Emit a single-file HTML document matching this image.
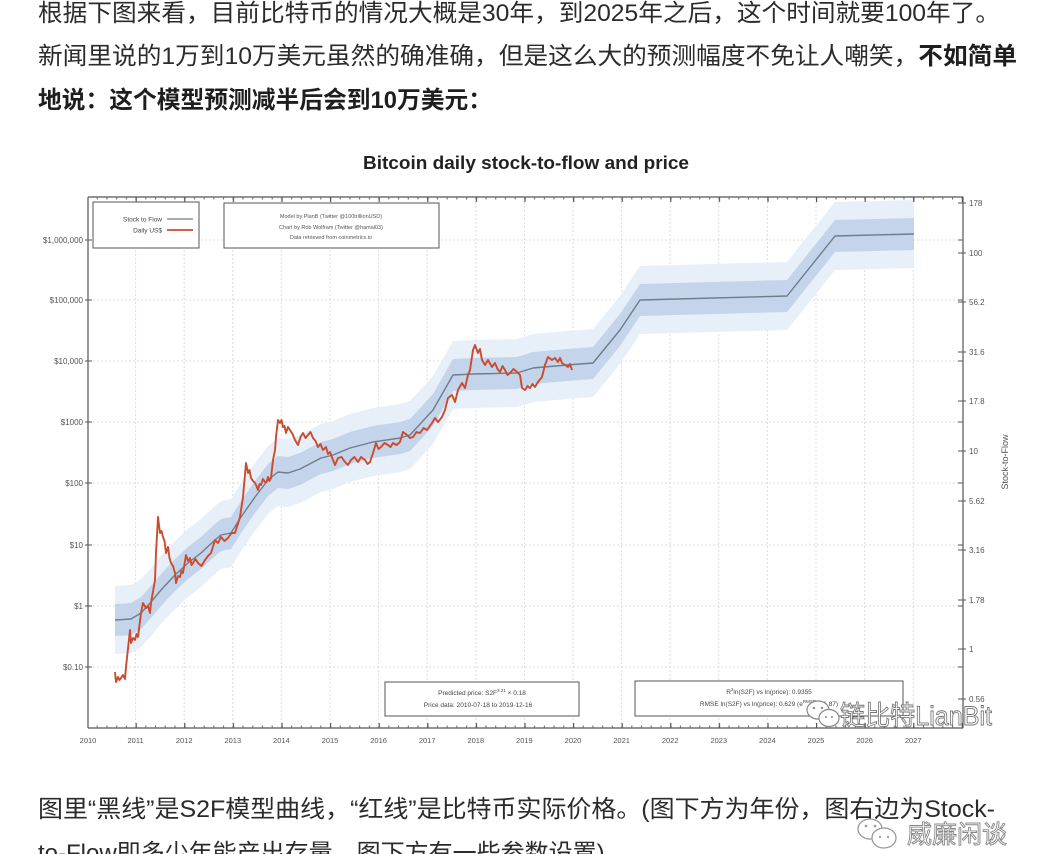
<!DOCTYPE html>
<html>
<head>
<meta charset="utf-8">
<style>
html,body{margin:0;padding:0;background:#fff;}
svg{display:block;}
.cn{font-family:"Liberation Sans","Noto Sans CJK SC",sans-serif;}
.lat{font-family:"Liberation Sans",sans-serif;}
</style>
</head>
<body>
<svg width="1042" height="854" viewBox="0 0 1042 854" xmlns="http://www.w3.org/2000/svg">
<defs>
  <pattern id="minB" x="87" y="0" width="9.72" height="854" patternUnits="userSpaceOnUse">
    <rect x="0" y="0" width="1" height="854" fill="#666"/>
  </pattern>
  <pattern id="majB" x="87" y="0" width="48.6" height="854" patternUnits="userSpaceOnUse">
    <rect x="0" y="0" width="1.2" height="854" fill="#555"/>
  </pattern>
</defs>
<rect width="1042" height="854" fill="#fff"/>

<!-- Top Chinese text -->
<text class="cn" x="38" y="21" font-size="24" fill="#2b2b2b" textLength="962" lengthAdjust="spacingAndGlyphs">根据下图来看，目前比特币的情况大概是30年，到2025年之后，这个时间就要100年了。</text>
<text class="cn" x="38" y="64" font-size="24" fill="#2b2b2b" textLength="979" lengthAdjust="spacingAndGlyphs">新闻里说的1万到10万美元虽然的确准确，但是这么大的预测幅度不免让人嘲笑，<tspan font-weight="bold" fill="#1e1e1e">不如简单</tspan></text>
<text class="cn" x="38" y="108" font-size="24" fill="#1e1e1e" font-weight="bold" textLength="454" lengthAdjust="spacingAndGlyphs">地说：这个模型预测减半后会到10万美元：</text>

<!-- Title -->
<text class="lat" x="363" y="169" font-size="18" font-weight="bold" fill="#222" textLength="326" lengthAdjust="spacingAndGlyphs">Bitcoin daily stock-to-flow and price</text>

<!-- Grid -->
<g stroke="#dcdcdc" stroke-width="1" stroke-dasharray="2,2">
  <line x1="135.6" y1="198" x2="135.6" y2="727"/>
  <line x1="184.2" y1="198" x2="184.2" y2="727"/>
  <line x1="232.8" y1="198" x2="232.8" y2="727"/>
  <line x1="281.4" y1="198" x2="281.4" y2="727"/>
  <line x1="330" y1="198" x2="330" y2="727"/>
  <line x1="378.6" y1="198" x2="378.6" y2="727"/>
  <line x1="427.2" y1="198" x2="427.2" y2="727"/>
  <line x1="475.8" y1="198" x2="475.8" y2="727"/>
  <line x1="524.4" y1="198" x2="524.4" y2="727"/>
  <line x1="573" y1="198" x2="573" y2="727"/>
  <line x1="621.6" y1="198" x2="621.6" y2="727"/>
  <line x1="670.2" y1="198" x2="670.2" y2="727"/>
  <line x1="718.8" y1="198" x2="718.8" y2="727"/>
  <line x1="767.4" y1="198" x2="767.4" y2="727"/>
  <line x1="816" y1="198" x2="816" y2="727"/>
  <line x1="864.6" y1="198" x2="864.6" y2="727"/>
  <line x1="913.2" y1="198" x2="913.2" y2="727"/>
  <line x1="89" y1="240" x2="962" y2="240"/>
  <line x1="89" y1="300" x2="962" y2="300"/>
  <line x1="89" y1="361" x2="962" y2="361"/>
  <line x1="89" y1="422" x2="962" y2="422"/>
  <line x1="89" y1="483" x2="962" y2="483"/>
  <line x1="89" y1="545" x2="962" y2="545"/>
  <line x1="89" y1="606" x2="962" y2="606"/>
  <line x1="89" y1="667" x2="962" y2="667"/>
</g>

<!-- Light band -->
<polygon fill="#e7eff9" points="115,586 131,585 141,579 151,568 161,556 175,541 188,529 201,519 215,506 221,501 231,499 241,483 255,463 268,446 278,438 288,439 300,435 321,424 333,421 350,414 373,408 400,404 410,401 433,376 453,341 473,340 517,339 533,334 567,331 593,329 620,296 640,266 787,262 835,202 914,200 914,268 835,270 787,330 640,334 620,364 593,397 567,399 533,402 517,407 473,408 453,409 433,444 410,469 400,472 373,476 350,482 333,489 321,492 300,503 288,507 278,506 268,514 255,531 241,551 231,567 221,569 215,574 201,587 188,597 175,609 161,624 151,636 141,647 131,653 115,654"/>
<!-- Dark band -->
<polygon fill="#c4d4ea" points="115,604 131,603 141,597 151,586 161,574 175,559 188,547 201,537 215,524 221,519 231,517 241,501 255,481 268,464 278,456 288,457 300,453 321,442 333,439 350,432 373,426 400,422 410,419 433,394 453,359 473,358 517,357 533,352 567,349 593,347 620,314 640,284 787,280 835,220 914,218 914,250 835,252 787,312 640,316 620,346 593,379 567,381 533,384 517,389 473,390 453,391 433,426 410,451 400,454 373,458 350,464 333,471 321,474 300,485 288,489 278,488 268,496 255,513 241,533 231,549 221,551 215,556 201,569 188,579 175,591 161,606 151,618 141,629 131,635 115,636"/>

<!-- S2F line -->
<polyline fill="none" stroke="#6f7d8a" stroke-width="1.4" stroke-linejoin="round" points="115,620 131,619 141,613 151,602 161,590 175,575 188,563 201,553 215,540 221,535 231,533 241,517 255,497 268,480 278,472 288,473 300,469 321,458 333,455 350,448 373,442 400,438 410,435 433,410 453,375 473,374 517,373 533,368 567,365 593,363 620,330 640,300 787,296 835,236 914,234"/>

<!-- Price line -->
<polyline fill="none" stroke="#cc4a2e" stroke-width="1.9" stroke-linejoin="round" points="115,672 116,682 118,677 119.5,680 121,678 123,675 125,679 126,667 130,630 131,643 133,638 135,640 136.5,634 138,637 141,613 143,603 146,608 148,606 150,613 151,603 155,580 156,553 158,517 160,533 161.5,531 163,537 164.5,541 166,553 168,547 169.5,558 171,563 173,566 175,573 176,583 178,576 180,577 181.5,571 183,573 186,555 188,561 190,558 191.5,565 193,563 195.5,559 198,563 201.5,566 205,560 208,556 211,553 215,540 218,543 221,537 224.5,541 228,538 231.5,533 235,533 240,517 243,497 246,463 248,473 249.5,470 251,478 253,481 255,483 256.5,486 258,490 259.5,484 261,485 263,479 265,482 266.5,482 268,477 269.5,481 271,478 273,460 275,450 276,437 278,420 280,423 281.5,420 283,427 284.5,426 286,433 288,427 290,430 292.5,434 295,440 298,445 300.5,437 303,433 305.5,438 308,435 310.5,432 313,438 315.5,441 318,447 320.5,444 323,450 326,447 328,454 330,452 333,460 335,465 338,458 341.5,457 345,462 348,465 351,460 354.5,457 358,462 361,457 365,460 367.5,464 370,462 373,453 376,443 378.5,449 381,447 384.5,443 388,445 390.5,447 393,443 396.5,445 400,442 403,432 407,435 410,438 413,437 416.5,432 420,433 423.5,428 427,430 432,423 435,418 438,422 442,417 445,410 448,398 452,395 455,402 458,390 462,383 465,388 468,375 470,370 473,350 475,345 478,353 480,349 482,360 485,365 488,360 492,367 495,363 497.5,369 500,372 502.5,366 505,370 507.5,375 510,373 513.5,369 517,372 520,375 522,388 525,390 527.5,386 530,388 532.5,384 535,387 538,382 542,377 545,365 548,357 552,360 555,358 558,362 560,358 562,363 565,365 568,367 570,364 572,370"/>

<!-- Frame -->
<g stroke="#555" stroke-width="1.2" fill="none">
  <line x1="88" y1="197" x2="963" y2="197"/>
  <line x1="88" y1="197" x2="88" y2="728"/>
  <line x1="88" y1="728" x2="963" y2="728"/>
  <line x1="963" y1="197" x2="963" y2="728"/>
</g>
<!-- Bottom / top ticks via patterns -->
<rect x="88" y="725.5" width="875" height="2.5" fill="url(#minB)"/>
<rect x="88" y="723" width="875" height="5" fill="url(#majB)"/>
<rect x="88" y="197" width="875" height="2.5" fill="url(#minB)"/>
<rect x="88" y="197" width="875" height="5" fill="url(#majB)"/>

<!-- Left ticks -->
<g stroke="#555" stroke-width="1">
  <line x1="85" y1="240" x2="92" y2="240"/>
  <line x1="85" y1="300" x2="92" y2="300"/>
  <line x1="85" y1="361" x2="92" y2="361"/>
  <line x1="85" y1="422" x2="92" y2="422"/>
  <line x1="85" y1="483" x2="92" y2="483"/>
  <line x1="85" y1="545" x2="92" y2="545"/>
  <line x1="85" y1="606" x2="92" y2="606"/>
  <line x1="85" y1="667" x2="92" y2="667"/>
</g>
<!-- Right ticks -->
<g stroke="#555" stroke-width="1">
  <line x1="958" y1="203" x2="966" y2="203"/>
  <line x1="958" y1="253" x2="966" y2="253"/>
  <line x1="958" y1="302" x2="966" y2="302"/>
  <line x1="958" y1="352" x2="966" y2="352"/>
  <line x1="958" y1="401" x2="966" y2="401"/>
  <line x1="958" y1="451" x2="966" y2="451"/>
  <line x1="958" y1="501" x2="966" y2="501"/>
  <line x1="958" y1="550" x2="966" y2="550"/>
  <line x1="958" y1="600" x2="966" y2="600"/>
  <line x1="958" y1="649" x2="966" y2="649"/>
  <line x1="958" y1="699" x2="966" y2="699"/>
  <line x1="958" y1="240" x2="963" y2="240"/>
  <line x1="958" y1="300" x2="963" y2="300"/>
  <line x1="958" y1="361" x2="963" y2="361"/>
  <line x1="958" y1="422" x2="963" y2="422"/>
  <line x1="958" y1="483" x2="963" y2="483"/>
  <line x1="958" y1="545" x2="963" y2="545"/>
  <line x1="958" y1="606" x2="963" y2="606"/>
  <line x1="958" y1="667" x2="963" y2="667"/>
</g>

<!-- Left labels -->
<g class="lat" font-size="8" fill="#555" text-anchor="end">
  <text x="83" y="243">$1,000,000</text>
  <text x="83" y="303">$100,000</text>
  <text x="83" y="364">$10,000</text>
  <text x="83" y="425">$1000</text>
  <text x="83" y="486">$100</text>
  <text x="83" y="548">$10</text>
  <text x="83" y="609">$1</text>
  <text x="83" y="670">$0.10</text>
</g>
<!-- Right labels -->
<g class="lat" font-size="8" fill="#555">
  <text x="969" y="206">178</text>
  <text x="969" y="256">100</text>
  <text x="969" y="305">56.2</text>
  <text x="969" y="355">31.6</text>
  <text x="969" y="404">17.8</text>
  <text x="969" y="454">10</text>
  <text x="969" y="504">5.62</text>
  <text x="969" y="553">3.16</text>
  <text x="969" y="603">1.78</text>
  <text x="969" y="652">1</text>
  <text x="969" y="702">0.56</text>
</g>
<text class="lat" font-size="9" fill="#555" text-anchor="middle" transform="translate(1008,462) rotate(-90)">Stock-to-Flow</text>

<!-- Year labels -->
<g class="lat" font-size="7.5" fill="#555" text-anchor="middle">
  <text x="88" y="743">2010</text>
  <text x="135.6" y="743">2011</text>
  <text x="184.2" y="743">2012</text>
  <text x="232.8" y="743">2013</text>
  <text x="281.4" y="743">2014</text>
  <text x="330" y="743">2015</text>
  <text x="378.6" y="743">2016</text>
  <text x="427.2" y="743">2017</text>
  <text x="475.8" y="743">2018</text>
  <text x="524.4" y="743">2019</text>
  <text x="573" y="743">2020</text>
  <text x="621.6" y="743">2021</text>
  <text x="670.2" y="743">2022</text>
  <text x="718.8" y="743">2023</text>
  <text x="767.4" y="743">2024</text>
  <text x="816" y="743">2025</text>
  <text x="864.6" y="743">2026</text>
  <text x="913.2" y="743">2027</text>
</g>

<!-- Legend box -->
<rect x="93" y="202" width="106" height="46" fill="#fff" stroke="#555" stroke-width="1"/>
<g class="lat" font-size="6.5" fill="#444" text-anchor="end">
  <text x="162" y="221.5">Stock to Flow</text>
  <text x="162" y="232.5">Daily US$</text>
</g>
<line x1="167" y1="219" x2="193" y2="219" stroke="#6f7d8a" stroke-width="1.2"/>
<line x1="167" y1="230" x2="193" y2="230" stroke="#cc4a2e" stroke-width="1.8"/>

<!-- Credits box -->
<rect x="224" y="203" width="215" height="45" fill="#fff" stroke="#555" stroke-width="1"/>
<g class="lat" font-size="5.5" fill="#555" text-anchor="middle">
  <text x="331" y="218">Model by PlanB (Twitter @100trillionUSD)</text>
  <text x="331" y="229">Chart by Rob Wolfram (Twitter @hamal03)</text>
  <text x="331" y="239">Data retrieved from coinmetrics.io</text>
</g>

<!-- Predicted price box -->
<rect x="385" y="682" width="194" height="34" fill="#fff" stroke="#555" stroke-width="1"/>
<g class="lat" font-size="6.5" fill="#444" text-anchor="middle">
  <text x="482" y="695">Predicted price: S2F<tspan font-size="4.5" dy="-3">3.21</tspan><tspan dy="3"> × 0.18</tspan></text>
  <text x="478" y="707">Price data: 2010-07-18 to 2019-12-16</text>
</g>

<!-- Stats box -->
<rect x="635" y="681" width="268" height="35" fill="#fff" stroke="#555" stroke-width="1"/>
<g class="lat" font-size="6.5" fill="#444" text-anchor="middle">
  <text x="769" y="694">R<tspan font-size="4.5" dy="-3">2</tspan><tspan dy="3">ln(S2F) vs ln(price): 0.9355</tspan></text>
  <text x="769" y="706">RMSE ln(S2F) vs ln(price): 0.629 (e<tspan font-size="4.5" dy="-3">RMSE</tspan><tspan dy="3"> = 1.87)</tspan></text>
</g>

<!-- Watermark in chart -->
<g fill="#fff" stroke="#888" stroke-width="1.2">
  <ellipse cx="818" cy="710" rx="11" ry="9"/>
  <ellipse cx="829" cy="718" rx="10" ry="8.5"/>
</g>
<g fill="#888">
  <circle cx="814" cy="708" r="1.2"/><circle cx="822" cy="708" r="1.2"/>
  <circle cx="826" cy="717" r="1"/><circle cx="832" cy="717" r="1"/>
</g>
<text class="cn" x="840" y="725" font-size="27" fill="#fff" stroke="#777" stroke-width="0.9" textLength="152" lengthAdjust="spacingAndGlyphs">链比特LianBit</text>

<!-- Bottom Chinese text -->
<text class="cn" x="38" y="817" font-size="24" fill="#2b2b2b" textLength="957" lengthAdjust="spacingAndGlyphs">图里“黑线”是S2F模型曲线，“红线”是比特币实际价格。(图下方为年份，图右边为Stock-</text>
<text class="cn" x="38" y="861" font-size="24" fill="#2b2b2b">to-Flow即多少年能产出存量，图下方有一些参数设置)</text>

<!-- Bottom-right watermark -->
<g fill="#fff" stroke="#999" stroke-width="1.3">
  <ellipse cx="870" cy="829" rx="12" ry="10"/>
  <ellipse cx="884" cy="838" rx="12" ry="10"/>
</g>
<g fill="#999">
  <circle cx="866" cy="826" r="1.3"/><circle cx="875" cy="826" r="1.3"/>
  <circle cx="880" cy="837" r="1.1"/><circle cx="888" cy="837" r="1.1"/>
</g>
<text class="cn" x="907" y="843" font-size="25" fill="#fff" stroke="#888" stroke-width="0.9" textLength="100" lengthAdjust="spacingAndGlyphs">威廉闲谈</text>
</svg>
</body>
</html>
